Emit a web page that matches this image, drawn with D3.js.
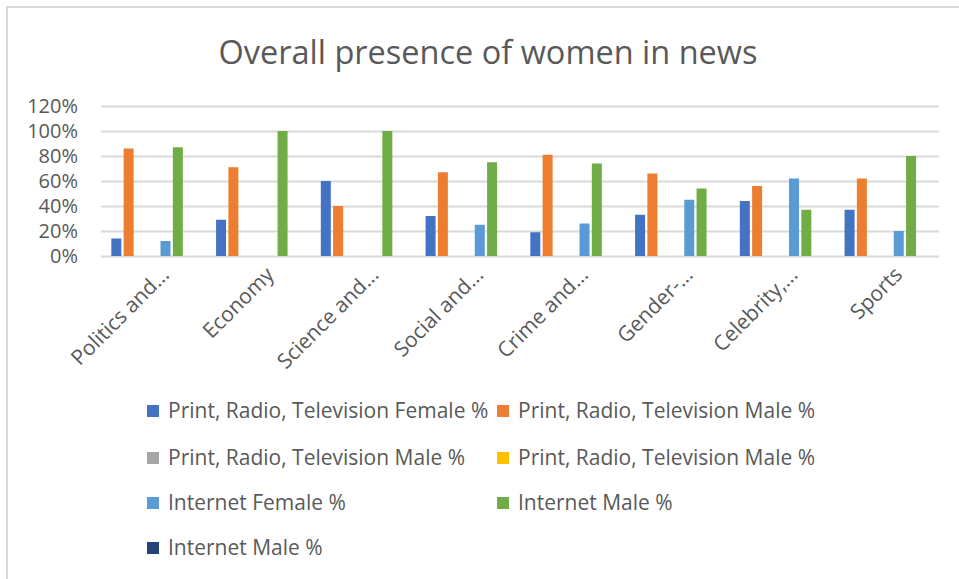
<!DOCTYPE html>
<html>
<head>
<meta charset="utf-8">
<script src="https://cdn.jsdelivr.net/npm/d3@7"></script>
<style>
  html, body { margin: 0; padding: 0; background: #fff; }
  svg { display: block; font-family: "Open Sans", "Noto Sans", sans-serif; }
</style>
</head>
<body>
<svg id="chart" width="959" height="579"></svg>
<script>
// Categories of news topics
const categories = ["Politics and...", "Economy", "Science and...", "Social and...",
                    "Crime and...", "Gender-...", "Celebrity,...", "Sports"];

// Series names (legend order) and their values in percent; null = no bar
const seriesNames = [
  "Print, Radio, Television Female %",
  "Print, Radio, Television Male %",
  "Print, Radio, Television Male %",
  "Print, Radio, Television Male %",
  "Internet Female %",
  "Internet Male %",
  "Internet Male %"
];
const prtFemale   = [14, 29, 60, 32, 19, 33, 44, 37];
const prtMale     = [86, 71, 40, 67, 81, 66, 56, 62];
const prtMale2    = [null, null, null, null, null, null, null, null];
const prtMale3    = [null, null, null, null, null, null, null, null];
const netFemale   = [12, null, null, 25, 26, 45, 62, 20];
const netMale     = [87, 100, 100, 75, 74, 54, 37, 80];
const netMale2    = [null, null, null, null, null, null, null, null];
const seriesValues = [prtFemale, prtMale, prtMale2, prtMale3, netFemale, netMale, netMale2];

const yTicks = [0, 20, 40, 60, 80, 100, 120];
const seriesColors = ["#4472C4", "#ED7D31", "#A5A5A5", "#FFC000", "#5B9BD5", "#70AD47", "#264478"];

const svg = d3.select("#chart");
const textColor = "#595959";
const gridColor = "#D9D9D9";

// Chart area border
svg.append("rect")
  .attr("x", 7).attr("y", 7)
  .attr("width", 980).attr("height", 600)
  .attr("fill", "none").attr("stroke", gridColor).attr("stroke-width", 2);

// Title
svg.append("text")
  .attr("x", 488).attr("y", 64)
  .attr("text-anchor", "middle")
  .attr("fill", textColor)
  .attr("font-size", 32.5)
  .text("Overall presence of women in news");

const plot = { left: 101, right: 939, top: 106, bottom: 256 };

const y = d3.scaleLinear().domain([0, 120]).range([plot.bottom, plot.top]);
const x0 = d3.scaleBand().domain(categories)
  .range([plot.left, plot.right])
  .paddingInner(0.178).paddingOuter(0.089);
const x1 = d3.scaleBand().domain(d3.range(seriesNames.length))
  .range([0, x0.bandwidth()]);

// Gridlines and y-axis labels
const yAxis = d3.axisLeft(y)
  .tickValues(yTicks)
  .tickSize(-(plot.right - plot.left))
  .tickPadding(23)
  .tickFormat(d => d + "%");
const gy = svg.append("g")
  .attr("transform", `translate(${plot.left},0)`)
  .call(yAxis);
gy.select(".domain").remove();
gy.selectAll(".tick line").attr("stroke", gridColor).attr("stroke-width", 2);
gy.selectAll(".tick text")
  .attr("fill", textColor)
  .attr("font-size", 20)
  .attr("font-family", "Open Sans, sans-serif");

// Bars
const groups = svg.append("g").selectAll("g")
  .data(categories)
  .join("g")
  .attr("transform", d => `translate(${x0(d)},0)`);

groups.selectAll("rect")
  .data((c, ci) => seriesValues.map((vals, si) => ({ si, v: vals[ci] })).filter(d => d.v != null))
  .join("rect")
  .attr("x", d => x1(d.si) + 1)
  .attr("width", x1.bandwidth() - 2.3)
  .attr("y", d => y(d.v))
  .attr("height", d => y(0) - y(d.v))
  .attr("fill", d => seriesColors[d.si]);

// Category labels, rotated
const gx = svg.append("g")
  .attr("transform", `translate(0,${plot.bottom})`)
  .call(d3.axisBottom(x0).tickSize(0).tickPadding(0));
gx.select(".domain").remove();
gx.selectAll(".tick text")
  .attr("fill", textColor)
  .attr("font-size", 21)
  .attr("font-family", "Open Sans, sans-serif")
  .attr("text-anchor", "end")
  .attr("y", 0)
  .attr("dy", 0)
  .attr("transform", "translate(17,20) rotate(-45)");

// Legend
const legendPos = [
  [147, 411], [497, 411],
  [147, 458], [497, 458],
  [147, 503], [497, 503],
  [147, 548]
];
const legend = svg.append("g").selectAll("g")
  .data(seriesNames)
  .join("g")
  .attr("transform", (d, i) => `translate(${legendPos[i][0]},${legendPos[i][1]})`);
legend.append("rect")
  .attr("x", 0).attr("y", -6)
  .attr("width", 12).attr("height", 12)
  .attr("fill", (d, i) => seriesColors[i]);
legend.append("text")
  .attr("x", 21).attr("y", 0)
  .attr("dy", "0.35em")
  .attr("fill", textColor)
  .attr("font-size", 21)
  .text(d => d);
</script>
</body>
</html>
